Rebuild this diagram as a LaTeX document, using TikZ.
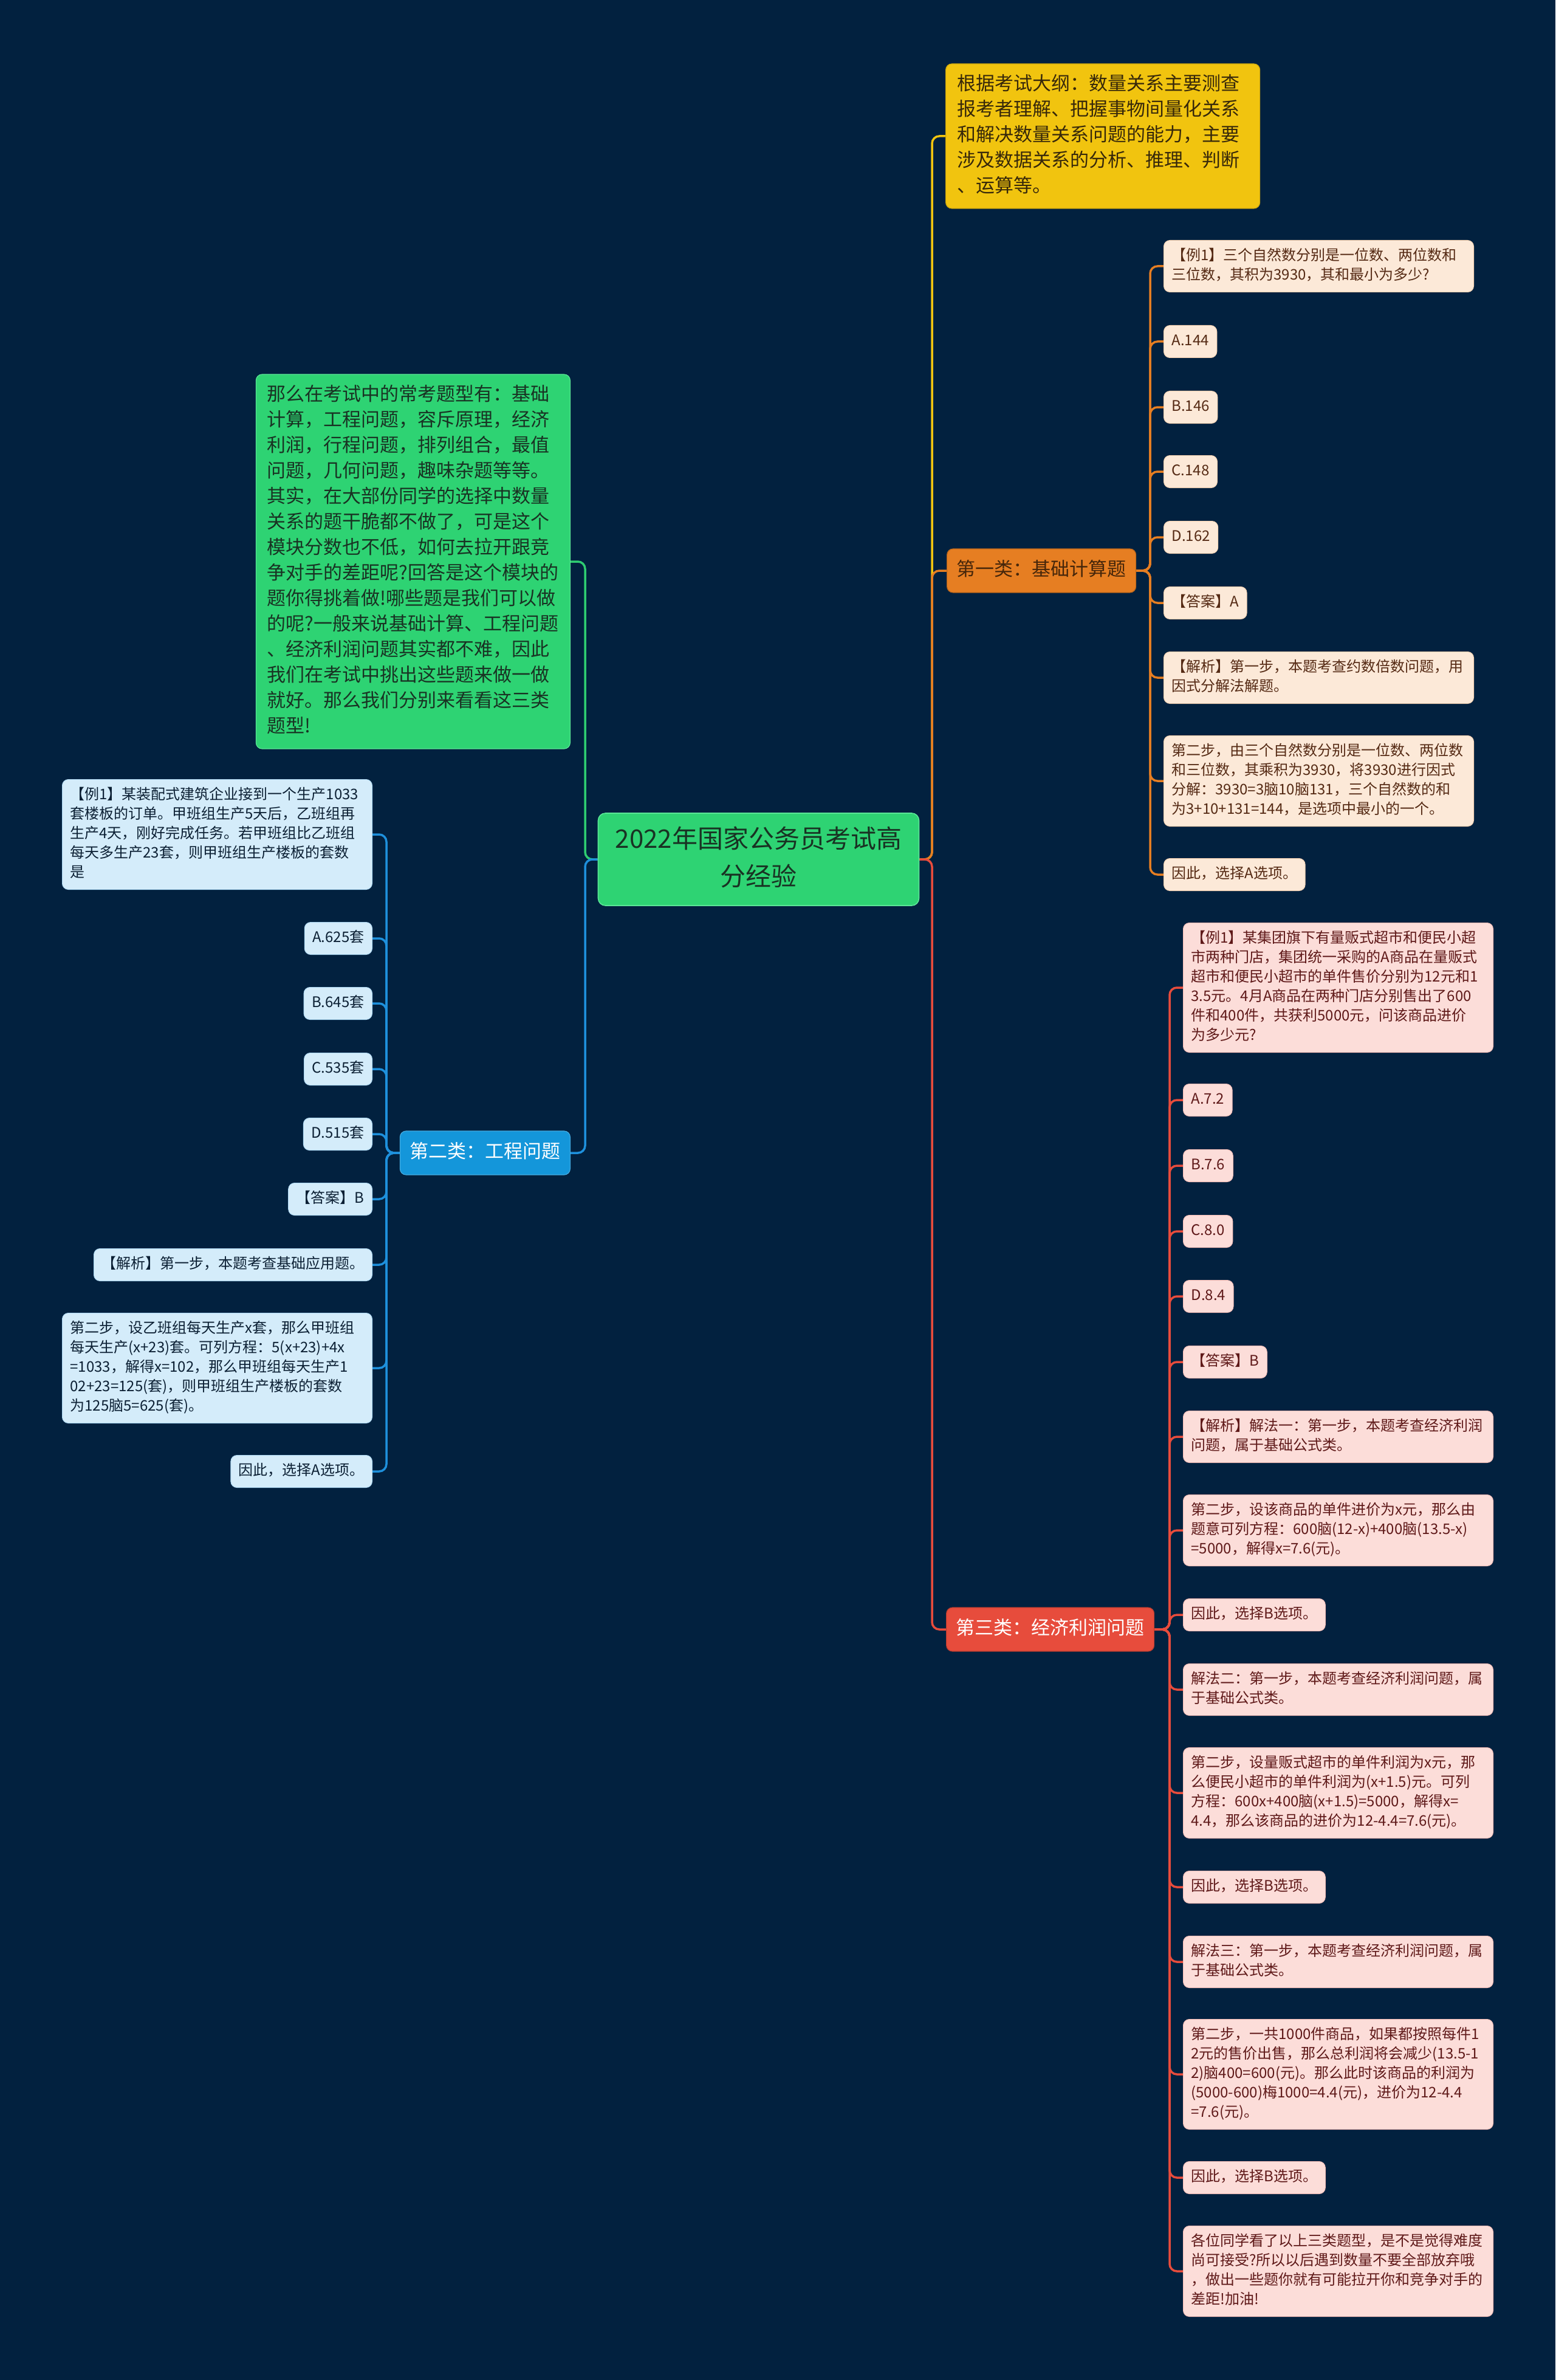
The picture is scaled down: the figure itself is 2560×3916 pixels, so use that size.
\documentclass[tikz,border=0pt]{standalone}
\usepackage{fontspec}
\setmainfont{Noto Sans CJK SC}
\exhyphenpenalty=10000
\hyphenpenalty=10000
\hbadness=10000
\hfuzz=200pt
\definecolor{bgc}{RGB}{2,33,63}
\definecolor{grnfill}{RGB}{46,211,115}
\definecolor{grnline}{RGB}{46,204,113}
\definecolor{grnedge}{RGB}{90,230,150}
\definecolor{grntext}{RGB}{25,50,35}
\definecolor{yelfill}{RGB}{241,196,15}
\definecolor{yeltext}{RGB}{55,40,10}
\definecolor{orfill}{RGB}{230,126,34}
\definecolor{ortext}{RGB}{70,38,10}
\definecolor{orleaf}{RGB}{252,233,216}
\definecolor{orleaftext}{RGB}{85,42,20}
\definecolor{blfill}{RGB}{20,150,218}
\definecolor{blline}{RGB}{30,144,220}
\definecolor{blleaf}{RGB}{212,236,250}
\definecolor{blleaftext}{RGB}{12,32,52}
\definecolor{rdfill}{RGB}{231,76,60}
\definecolor{rdleaf}{RGB}{252,221,217}
\definecolor{rdleaftext}{RGB}{95,25,25}
\pgfdeclarelayer{bglayer}
\pgfdeclarelayer{connlayer}
\pgfsetlayers{bglayer,connlayer,main}
\begin{document}
\begin{tikzpicture}[x=0.5pt,y=-0.5pt,
  leafbox/.style={rounded corners=5pt, inner xsep=6.5pt, inner ysep=5.25pt, align=left,
    font=\fontsize{12pt}{16pt}\selectfont, execute at begin node=\strut,
    execute at end node=\strut, line width=0.5pt},
  widebox/.style={text width=242pt},
  oleaf/.style={leafbox, fill=orleaf, draw=orleaf!80!orfill, text=orleaftext},
  rleaf/.style={leafbox, fill=rdleaf, draw=rdleaf!80!rdfill, text=rdleaftext},
  bleaf/.style={leafbox, fill=blleaf, draw=blleaf!80!blline, text=blleaftext},
  catbox/.style={rounded corners=5pt, inner xsep=8pt, inner ysep=7.75pt,
    font=\fontsize{15.5pt}{20.5pt}\selectfont, execute at begin node=\strut, line width=0.6pt},
  bigbox/.style={rounded corners=5pt, text width=240pt, inner xsep=9.25pt, inner ysep=7pt,
    align=left, font=\fontsize{15.5pt}{21pt}\selectfont, execute at begin node=\strut,
    execute at end node=\strut, line width=0.6pt},
  centbox/.style={rounded corners=6pt, text width=236pt, inner xsep=14pt, inner ysep=7pt,
    align=center, font=\fontsize{21pt}{31pt}\selectfont, execute at begin node=\strut,
    execute at end node=\strut, line width=0.8pt},
  connline/.style={line width=1.75pt, rounded corners=6pt}
]
\begin{pgfonlayer}{bglayer}
\fill[bgc] (0,0) rectangle (2560,3916);
\end{pgfonlayer}
\useasboundingbox (0,0) rectangle (2560,3916);

% central
\node[centbox, fill=grnfill, draw=grnedge, text=grntext] (c) at (1248.5,1414)
  {2022年国家公务员考试高\\分经验};

% yellow
\node[bigbox, fill=yelfill, draw=yelfill!85!black, text=yeltext, anchor=west] (y) at (1556,224)
  {根据考试大纲：数量关系主要测查\\报考者理解、把握事物间量化关系\\和解决数量关系问题的能力，主要\\涉及数据关系的分析、推理、判断\\、运算等。};

% green left
\node[bigbox, fill=grnfill, draw=grnedge, text=grntext, anchor=east] (g) at (939,924)
  {那么在考试中的常考题型有：基础\\计算，工程问题，容斥原理，经济\\利润，行程问题，排列组合，最值\\问题，几何问题，趣味杂题等等。\\其实，在大部份同学的选择中数量\\关系的题干脆都不做了，可是这个\\模块分数也不低，如何去拉开跟竞\\争对手的差距呢?回答是这个模块的\\题你得挑着做!哪些题是我们可以做\\的呢?一般来说基础计算、工程问题\\、经济利润问题其实都不难，因此\\我们在考试中挑出这些题来做一做\\就好。那么我们分别来看看这三类\\题型!};

% categories
\node[catbox, fill=orfill, draw=orfill!80!black, text=ortext, anchor=west] (oc) at (1558,939) {第一类：基础计算题};
\node[catbox, fill=blfill, draw=blfill!80!white, text=white, anchor=east] (bc) at (939,1897) {第二类：工程问题};
\node[catbox, fill=rdfill, draw=rdfill!80!black, text=white, anchor=west] (rc) at (1557,2681) {第三类：经济利润问题};

% orange children
\node[oleaf, widebox, anchor=west] (o1) at (1915,438) {【例1】三个自然数分别是一位数、两位数和\\三位数，其积为3930，其和最小为多少?};
\node[oleaf, anchor=west] (o2) at (1915,562) {A.144};
\node[oleaf, anchor=west] (o3) at (1915,670) {B.146};
\node[oleaf, anchor=west] (o4) at (1915,776) {C.148};
\node[oleaf, anchor=west] (o5) at (1915,884) {D.162};
\node[oleaf, anchor=west] (o6) at (1915,992) {【答案】A};
\node[oleaf, widebox, anchor=west] (o7) at (1915,1115) {【解析】第一步，本题考查约数倍数问题，用\\因式分解法解题。};
\node[oleaf, widebox, anchor=west] (o8) at (1915,1285) {第二步，由三个自然数分别是一位数、两位数\\和三位数，其乘积为3930，将3930进行因式\\分解：3930=3脑10脑131，三个自然数的和\\为3+10+131=144，是选项中最小的一个。};
\node[oleaf, anchor=west] (o9) at (1915,1439) {因此，选择A选项。};

% blue children
\node[bleaf, widebox, anchor=east] (b1) at (613,1373) {【例1】某装配式建筑企业接到一个生产1033\\套楼板的订单。甲班组生产5天后，乙班组再\\生产4天，刚好完成任务。若甲班组比乙班组\\每天多生产23套，则甲班组生产楼板的套数\\是};
\node[bleaf, anchor=east] (b2) at (613,1544) {A.625套};
\node[bleaf, anchor=east] (b3) at (613,1651) {B.645套};
\node[bleaf, anchor=east] (b4) at (613,1759) {C.535套};
\node[bleaf, anchor=east] (b5) at (613,1866) {D.515套};
\node[bleaf, anchor=east] (b6) at (613,1973) {【答案】B};
\node[bleaf, anchor=east] (b7) at (613,2081) {【解析】第一步，本题考查基础应用题。};
\node[bleaf, widebox, anchor=east] (b8) at (613,2251) {第二步，设乙班组每天生产x套，那么甲班组\\每天生产(x+23)套。可列方程：5(x+23)+4x\\=1033，解得x=102，那么甲班组每天生产1\\02+23=125(套)，则甲班组生产楼板的套数\\为125脑5=625(套)。};
\node[bleaf, anchor=east] (b9) at (613,2421) {因此，选择A选项。};

% red children
\node[rleaf, widebox, anchor=west] (r1) at (1947,1625) {【例1】某集团旗下有量贩式超市和便民小超\\市两种门店，集团统一采购的A商品在量贩式\\超市和便民小超市的单件售价分别为12元和1\\3.5元。4月A商品在两种门店分别售出了600\\件和400件，共获利5000元，问该商品进价\\为多少元?};
\node[rleaf, anchor=west] (r2) at (1947,1810) {A.7.2};
\node[rleaf, anchor=west] (r3) at (1947,1918) {B.7.6};
\node[rleaf, anchor=west] (r4) at (1947,2026) {C.8.0};
\node[rleaf, anchor=west] (r5) at (1947,2133) {D.8.4};
\node[rleaf, anchor=west] (r6) at (1947,2241) {【答案】B};
\node[rleaf, widebox, anchor=west] (r7) at (1947,2364) {【解析】解法一：第一步，本题考查经济利润\\问题，属于基础公式类。};
\node[rleaf, widebox, anchor=west] (r8) at (1947,2518) {第二步，设该商品的单件进价为x元，那么由\\题意可列方程：600脑(12-x)+400脑(13.5-x)\\=5000，解得x=7.6(元)。};
\node[rleaf, anchor=west] (r9) at (1947,2657) {因此，选择B选项。};
\node[rleaf, widebox, anchor=west] (r10) at (1947,2780) {解法二：第一步，本题考查经济利润问题，属\\于基础公式类。};
\node[rleaf, widebox, anchor=west] (r11) at (1947,2950) {第二步，设量贩式超市的单件利润为x元，那\\么便民小超市的单件利润为(x+1.5)元。可列\\方程：600x+400脑(x+1.5)=5000，解得x=\\4.4，那么该商品的进价为12-4.4=7.6(元)。};
\node[rleaf, anchor=west] (r12) at (1947,3105) {因此，选择B选项。};
\node[rleaf, widebox, anchor=west] (r13) at (1947,3228) {解法三：第一步，本题考查经济利润问题，属\\于基础公式类。};
\node[rleaf, widebox, anchor=west] (r14) at (1947,3413) {第二步，一共1000件商品，如果都按照每件1\\2元的售价出售，那么总利润将会减少(13.5-1\\2)脑400=600(元)。那么此时该商品的利润为\\(5000-600)梅1000=4.4(元)，进价为12-4.4\\=7.6(元)。};
\node[rleaf, anchor=west] (r15) at (1947,3583) {因此，选择B选项。};
\node[rleaf, widebox, anchor=west] (r16) at (1947,3737) {各位同学看了以上三类题型，是不是觉得难度\\尚可接受?所以以后遇到数量不要全部放弃哦\\，做出一些题你就有可能拉开你和竞争对手的\\差距!加油!};

% trunk points
\coordinate (rt) at (1534,1414);
\coordinate (lt) at (963,1414);
\coordinate (ot) at (1893,939);
\coordinate (rdt) at (1925,2681);
\coordinate (blt) at (636,1897);

\begin{pgfonlayer}{connlayer}
\draw[connline, draw=yelfill] (c.east) -- (rt) |- (y.west);
\draw[connline, draw=orfill] (c.east) -- (rt) |- (oc.west);
\draw[connline, draw=rdfill] (c.east) -- (rt) |- (rc.west);
\draw[connline, draw=grnline] (c.west) -- (lt) |- (g.east);
\draw[connline, draw=blline] (c.west) -- (lt) |- (bc.east);
\foreach \n in {o1,o2,o3,o4,o5,o6,o7,o8,o9}
  \draw[connline, draw=orfill] (oc.east) -- (ot) |- (\n.west);
\foreach \n in {b1,b2,b3,b4,b5,b6,b7,b8,b9}
  \draw[connline, draw=blline] (bc.west) -- (blt) |- (\n.east);
\foreach \n in {r1,r2,r3,r4,r5,r6,r7,r8,r9,r10,r11,r12,r13,r14,r15,r16}
  \draw[connline, draw=rdfill] (rc.east) -- (rdt) |- (\n.west);
\end{pgfonlayer}
\end{tikzpicture}
\end{document}
